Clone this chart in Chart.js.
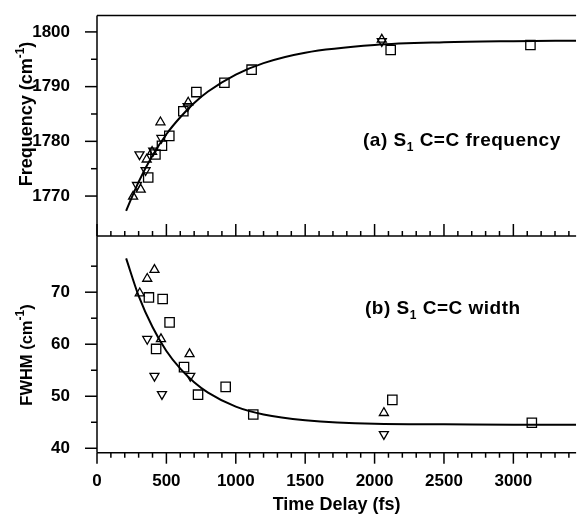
<!DOCTYPE html>
<html><head><meta charset="utf-8">
<script src="https://cdn.jsdelivr.net/npm/chart.js@4.4.0/dist/chart.umd.min.js"></script>
<style>html,body{margin:0;padding:0;background:#fff;overflow:hidden;}#wrap{width:584px;height:516px;position:relative;}</style>
</head><body><div id="wrap"><canvas id="c" width="584" height="516"></canvas></div>
<script>
// ---- data (time delay in fs) ----
const freqSquareTime = [369, 421, 468, 521, 622, 716, 918, 1114, 2116, 3123];
const freqSquareVal  = [1773.4, 1777.6, 1779.2, 1781.0, 1785.5, 1789.0, 1790.7, 1793.1, 1796.7, 1797.6];
const freqUpTime = [260, 315, 358, 397, 457, 657, 2052];
const freqUpVal  = [1769.9, 1771.2, 1776.7, 1778.1, 1783.5, 1787.1, 1798.6];
const freqDownTime = [288, 306, 350, 405, 464, 653, 2052];
const freqDownVal  = [1772.0, 1777.6, 1774.7, 1778.3, 1780.6, 1786.4, 1798.3];

const fwhmSquareTime = [374, 426, 473, 523, 627, 728, 927, 1126, 2128, 3133];
const fwhmSquareVal  = [69.0, 59.1, 68.7, 64.2, 55.6, 50.3, 51.8, 46.5, 49.3, 44.9];
const fwhmUpTime = [308, 362, 414, 461, 667, 2067];
const fwhmUpVal  = [69.8, 72.6, 74.3, 61.0, 58.1, 46.8];
const fwhmDownTime = [362, 414, 468, 672, 2067];
const fwhmDownVal  = [61.0, 53.9, 50.4, 53.9, 42.7];

const fitTime    = [210, 300, 400, 500, 600, 700, 800, 1000, 1200, 1500, 2000, 2500, 3000, 3452];
const freqFitVal = [1767.3, 1772.6, 1777.4, 1781.3, 1784.4, 1787.0, 1789.1, 1792.2, 1794.3, 1796.2, 1797.6, 1798.1, 1798.3, 1798.4];
const fwhmFitVal = [76.5, 69.3, 63.3, 58.7, 55.3, 52.7, 50.7, 48.0, 46.5, 45.4, 44.7, 44.6, 44.5, 44.5];

const timeTicks = [0, 500, 1000, 1500, 2000, 2500, 3000];
const timeMinorTicks = [100,200,300,400,600,700,800,900,1100,1200,1300,1400,1600,1700,1800,1900,2100,2200,2300,2400,2600,2700,2800,2900,3100,3200,3300,3400];
const freqTicks = [1770, 1780, 1790, 1800];
const freqMinorTicks = [1775, 1785, 1795];
const fwhmTicks = [40, 50, 60, 70];
const fwhmMinorTicks = [45, 55, 65, 75];

const labelA = ['(a) S', '1', ' C=C frequency'];
const labelB = ['(b) S', '1', ' C=C width'];
const titleFreq = ['Frequency (cm', '-1', ')'];
const titleFwhm = ['FWHM (cm', '-1', ')'];
const titleTime = 'Time Delay (fs)';

// ---- helpers ----
const pts = (xs, ys) => xs.map((x, i) => ({x: x, y: ys[i]}));
const FONT = '"Liberation Sans", Arial, Helvetica, sans-serif';

function scatterSet(xs, ys, axis, style, rot) {
  const r = style === 'rect' ? 6.6 : 5.2;
  return {type: 'scatter', data: pts(xs, ys), yAxisID: axis, pointStyle: style,
    rotation: rot, pointRadius: r, pointHoverRadius: r,
    borderColor: '#000', backgroundColor: 'rgba(0,0,0,0)', pointBorderWidth: 1.3, borderWidth: 1.3};
}
function fitSet(xs, ys, axis) {
  return {type: 'line', data: pts(xs, ys), yAxisID: axis, borderColor: '#000', borderWidth: 2,
    pointRadius: 0, fill: false, cubicInterpolationMode: 'monotone'};
}

// draws text pieces with a superscript/subscript middle part
function drawPieces(ctx, parts, x, y, size, subSize, dy) {
  ctx.font = 'bold ' + size + 'px ' + FONT; ctx.fillText(parts[0], x, y); x += ctx.measureText(parts[0]).width;
  ctx.font = 'bold ' + subSize + 'px ' + FONT; ctx.fillText(parts[1], x, y + dy); x += ctx.measureText(parts[1]).width;
  ctx.font = 'bold ' + size + 'px ' + FONT; ctx.fillText(parts[2], x, y);
}
function piecesWidth(ctx, parts, size, subSize) {
  ctx.font = 'bold ' + size + 'px ' + FONT; let w = ctx.measureText(parts[0]).width + ctx.measureText(parts[2]).width;
  ctx.font = 'bold ' + subSize + 'px ' + FONT; w += ctx.measureText(parts[1]).width;
  return w;
}

const framePlugin = {
  id: 'frame',
  afterDraw(chart) {
    const ctx = chart.ctx, a = chart.chartArea;
    const x = chart.scales.x, yA = chart.scales.yA, yB = chart.scales.yB;
    ctx.save();
    ctx.strokeStyle = '#000';
    ctx.lineWidth = 1.5;
    const seg = (x1, y1, x2, y2) => { ctx.beginPath(); ctx.moveTo(x1, y1); ctx.lineTo(x2, y2); ctx.stroke(); };
    // frame lines
    seg(a.left, yA.top, a.right, yA.top);
    seg(a.left, yB.top, a.right, yB.top);
    seg(a.left, a.bottom, a.right, a.bottom);
    seg(a.left, yA.top, a.left, a.bottom);
    // x ticks: at divider (pointing up) and at bottom (pointing down)
    timeTicks.forEach(v => { const p = x.getPixelForValue(v); seg(p, yB.top, p, yB.top - 12); seg(p, a.bottom, p, a.bottom + 11); });
    timeMinorTicks.forEach(v => { const p = x.getPixelForValue(v); seg(p, yB.top, p, yB.top - 5); seg(p, a.bottom, p, a.bottom + 5); });
    // y ticks (outward)
    freqTicks.forEach(v => { const p = yA.getPixelForValue(v); seg(a.left, p, a.left - 12, p); });
    freqMinorTicks.forEach(v => { const p = yA.getPixelForValue(v); seg(a.left, p, a.left - 6, p); });
    fwhmTicks.forEach(v => { const p = yB.getPixelForValue(v); seg(a.left, p, a.left - 12, p); });
    fwhmMinorTicks.forEach(v => { const p = yB.getPixelForValue(v); seg(a.left, p, a.left - 6, p); });
    // panel labels
    ctx.fillStyle = '#000';
    ctx.textBaseline = 'alphabetic';
    ctx.textAlign = 'left';
    try { ctx.letterSpacing = '0.5px'; } catch (e) {}
    drawPieces(ctx, labelA, a.left + 266, yA.top + 130, 19, 12, 5);
    drawPieces(ctx, labelB, a.left + 268, yB.top + 77.5, 19, 12, 5);
    try { ctx.letterSpacing = '0px'; } catch (e) {}
    // rotated y-axis titles
    const vTitle = (parts, size, cx, cy) => {
      ctx.save();
      ctx.translate(cx, cy);
      ctx.rotate(-Math.PI / 2);
      ctx.textBaseline = 'alphabetic';
      const w = piecesWidth(ctx, parts, size, 12);
      drawPieces(ctx, parts, -w / 2, size * 0.36, size, 12, -8);
      ctx.restore();
    };
    vTitle(titleFreq, 18, 26, 114);
    vTitle(titleFwhm, 16.5, 26, 355);
    ctx.restore();
  }
};

const setTicks = arr => scale => { scale.ticks = arr.map(v => ({value: v})); };
const noPad = w => s => { if (w.width !== undefined) s.width = w.width; if (w.height !== undefined) s.height = w.height;
  s.paddingTop = 0; s.paddingBottom = 0; s.paddingLeft = 0; s.paddingRight = 0; };
const tickFont = {family: FONT, size: 17, weight: 'bold'};

new Chart(document.getElementById('c'), {
  data: {datasets: [
    fitSet(fitTime, freqFitVal, 'yA'),
    fitSet(fitTime, fwhmFitVal, 'yB'),
    scatterSet(freqSquareTime, freqSquareVal, 'yA', 'rect', 0),
    scatterSet(freqUpTime, freqUpVal, 'yA', 'triangle', 0),
    scatterSet(freqDownTime, freqDownVal, 'yA', 'triangle', 180),
    scatterSet(fwhmSquareTime, fwhmSquareVal, 'yB', 'rect', 0),
    scatterSet(fwhmUpTime, fwhmUpVal, 'yB', 'triangle', 0),
    scatterSet(fwhmDownTime, fwhmDownVal, 'yB', 'triangle', 180)
  ]},
  options: {
    responsive: false, animation: false, devicePixelRatio: 1,
    layout: {padding: {top: 15.5, right: 0, left: 0, bottom: 0}},
    plugins: {legend: {display: false}, tooltip: {enabled: false}},
    events: [],
    scales: {
      x: {type: 'linear', position: 'bottom', min: 0, max: 3452,
        afterBuildTicks: setTicks(timeTicks),
        afterFit: noPad({height: 63.3}),
        grid: {display: false}, border: {display: false},
        ticks: {color: '#000', padding: 10, maxRotation: 0, autoSkip: false, font: tickFont, callback: v => String(v)},
        title: {display: true, text: titleTime, color: '#000', font: {family: FONT, size: 18, weight: 'bold'}, padding: {top: 0, bottom: 0}}
      },
      yB: {type: 'linear', position: 'left', stack: 'panels', stackWeight: 216.7, min: 39.15, max: 80.8,
        afterBuildTicks: setTicks(fwhmTicks),
        afterFit: noPad({width: 97}),
        grid: {display: false}, border: {display: false},
        ticks: {color: '#000', padding: 19, font: tickFont, callback: v => String(v)},
        title: {display: false}
      },
      yA: {type: 'linear', position: 'left', stack: 'panels', stackWeight: 220.5, min: 1762.7, max: 1803.0,
        afterBuildTicks: setTicks(freqTicks),
        afterFit: noPad({width: 97}),
        grid: {display: false}, border: {display: false},
        ticks: {color: '#000', padding: 19, font: tickFont, callback: v => String(v)},
        title: {display: false}
      }
    }
  },
  plugins: [framePlugin]
});
</script></body></html>
